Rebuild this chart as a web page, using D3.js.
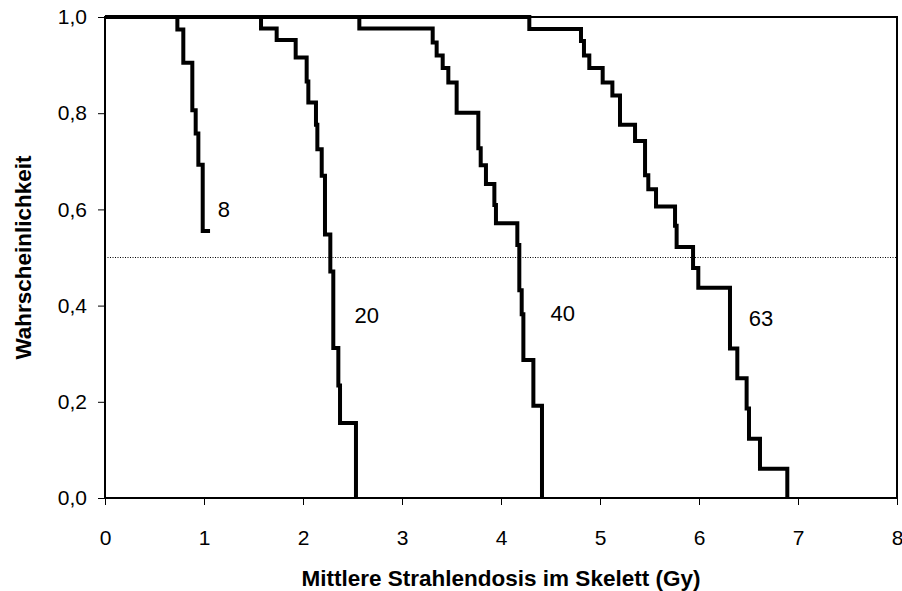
<!DOCTYPE html>
<html>
<head>
<meta charset="utf-8">
<script src="https://cdn.jsdelivr.net/npm/d3@7"></script>
<style>
    body { margin: 0; background: #fff; }
    text { font-family: "Liberation Sans", Arial, sans-serif; fill: #000; }
</style>
</head>
<body>
<div id="chart"></div>
<script>

/* * * * * * * * * * * * * *
*          DATA            *
* * * * * * * * * * * * * */

// dose at which each step happens, and the probability after the step
const doses8  = [0, 0.731, 0.791, 0.882, 0.916, 0.943, 0.987, 1.061];
const probs8  = [1, 0.974, 0.905, 0.806, 0.758, 0.693, 0.555, 0.555];

const doses20 = [0, 1.576, 1.734, 1.926, 2.037, 2.054, 2.131, 2.145, 2.189, 2.222, 2.276, 2.306, 2.357, 2.374, 2.535];
const probs20 = [1, 0.976, 0.952, 0.916, 0.866, 0.822, 0.776, 0.725, 0.670, 0.548, 0.471, 0.312, 0.234, 0.156, 0];

const doses40 = [0, 2.569, 3.310, 3.350, 3.411, 3.468, 3.552, 3.771, 3.795, 3.848, 3.933, 3.949, 4.165, 4.185, 4.209, 4.226, 4.327, 4.414];
const probs40 = [1, 0.976, 0.947, 0.920, 0.894, 0.864, 0.801, 0.727, 0.692, 0.653, 0.609, 0.571, 0.526, 0.432, 0.382, 0.287, 0.192, 0];

const doses63 = [0, 4.286, 4.808, 4.838, 4.892, 5.027, 5.125, 5.202, 5.354, 5.455, 5.488, 5.566, 5.758, 5.774, 5.94, 5.993, 6.313, 6.387, 6.481, 6.505, 6.616, 6.892];
const probs63 = [1, 0.975, 0.95, 0.920, 0.894, 0.864, 0.837, 0.776, 0.742, 0.671, 0.642, 0.606, 0.566, 0.522, 0.478, 0.437, 0.311, 0.249, 0.186, 0.123, 0.061, 0];

const curveNames = ["8", "20", "40", "63"];
const xTicks = [0, 1, 2, 3, 4, 5, 6, 7, 8];
const yTicks = [0, 0.2, 0.4, 0.6, 0.8, 1.0];
const halfLine = 0.5;

const xTitle = "Mittlere Strahlendosis im Skelett (Gy)";
const yTitle = "Wahrscheinlichkeit";


/* * * * * * * * * * * * * *
*          CHART           *
* * * * * * * * * * * * * */

const margin = {top: 17, right: 5, bottom: 93, left: 105};
const width = 902 - margin.left - margin.right;
const height = 591 - margin.top - margin.bottom;

const svg = d3.select("#chart").append("svg")
    .attr("width", 902)
    .attr("height", 591)
    .append("g")
    .attr("transform", "translate(" + margin.left + "," + margin.top + ")");

const x = d3.scaleLinear().domain([0, 8]).range([0, width]);
const y = d3.scaleLinear().domain([0, 1]).range([height, 0]);

const de = d3.formatLocale({decimal: ",", thousands: ".", grouping: [3], currency: ["", " €"]});
const fmtY = de.format(".1f");

// axes
const xAxis = svg.append("g")
    .attr("transform", "translate(0," + height + ")")
    .call(d3.axisBottom(x).tickValues(xTicks).tickSize(7).tickPadding(25).tickFormat(d3.format("d")));

const yAxis = svg.append("g")
    .call(d3.axisLeft(y).tickValues(yTicks).tickSize(7).tickPadding(11).tickFormat(fmtY));

[xAxis, yAxis].forEach(a => {
    a.select(".domain").remove();
    a.selectAll(".tick line").attr("stroke", "#000").attr("stroke-width", 1);
    a.selectAll(".tick text").style("font-size", "21px").attr("fill", "#000");
});

// frame
svg.append("rect")
    .attr("x", 0).attr("y", 0)
    .attr("width", width).attr("height", height)
    .attr("fill", "none")
    .attr("stroke", "#000")
    .attr("stroke-width", 2);

// dotted 0.5 line
svg.append("line")
    .attr("x1", x(0)).attr("x2", x(8))
    .attr("y1", y(halfLine)).attr("y2", y(halfLine))
    .attr("stroke", "#000")
    .attr("stroke-width", 1)
    .attr("stroke-dasharray", "1,1.5");

// step curves
const series = [
    {name: curveNames[0], doses: doses8,  probs: probs8,  lx: 1.202, ly: 0.599},
    {name: curveNames[1], doses: doses20, probs: probs20, lx: 2.643, ly: 0.380},
    {name: curveNames[2], doses: doses40, probs: probs40, lx: 4.623, ly: 0.384},
    {name: curveNames[3], doses: doses63, probs: probs63, lx: 6.626, ly: 0.374}
];

const line = d3.line()
    .x(d => x(d[0]))
    .y(d => y(d[1]))
    .curve(d3.curveStepAfter);

series.forEach(s => {
    const pts = s.doses.map((d, i) => [d, s.probs[i]]);
    svg.append("path")
        .datum(pts)
        .attr("d", line)
        .attr("fill", "none")
        .attr("stroke", "#000")
        .attr("stroke-width", 4)
        .attr("stroke-linejoin", "miter");

    svg.append("text")
        .attr("x", x(s.lx))
        .attr("y", y(s.ly))
        .attr("text-anchor", "middle")
        .attr("dominant-baseline", "central")
        .style("font-size", "22px")
        .text(s.name);
});

// axis titles
svg.append("text")
    .attr("x", width / 2)
    .attr("y", height + 88)
    .attr("text-anchor", "middle")
    .style("font-size", "22.5px")
    .style("font-weight", "bold")
    .text(xTitle);

svg.append("text")
    .attr("transform", "translate(" + (-margin.left + 31) + "," + (height / 2) + ") rotate(-90)")
    .attr("text-anchor", "middle")
    .style("font-size", "22.5px")
    .style("font-weight", "bold")
    .text(yTitle);

</script>
</body>
</html>
